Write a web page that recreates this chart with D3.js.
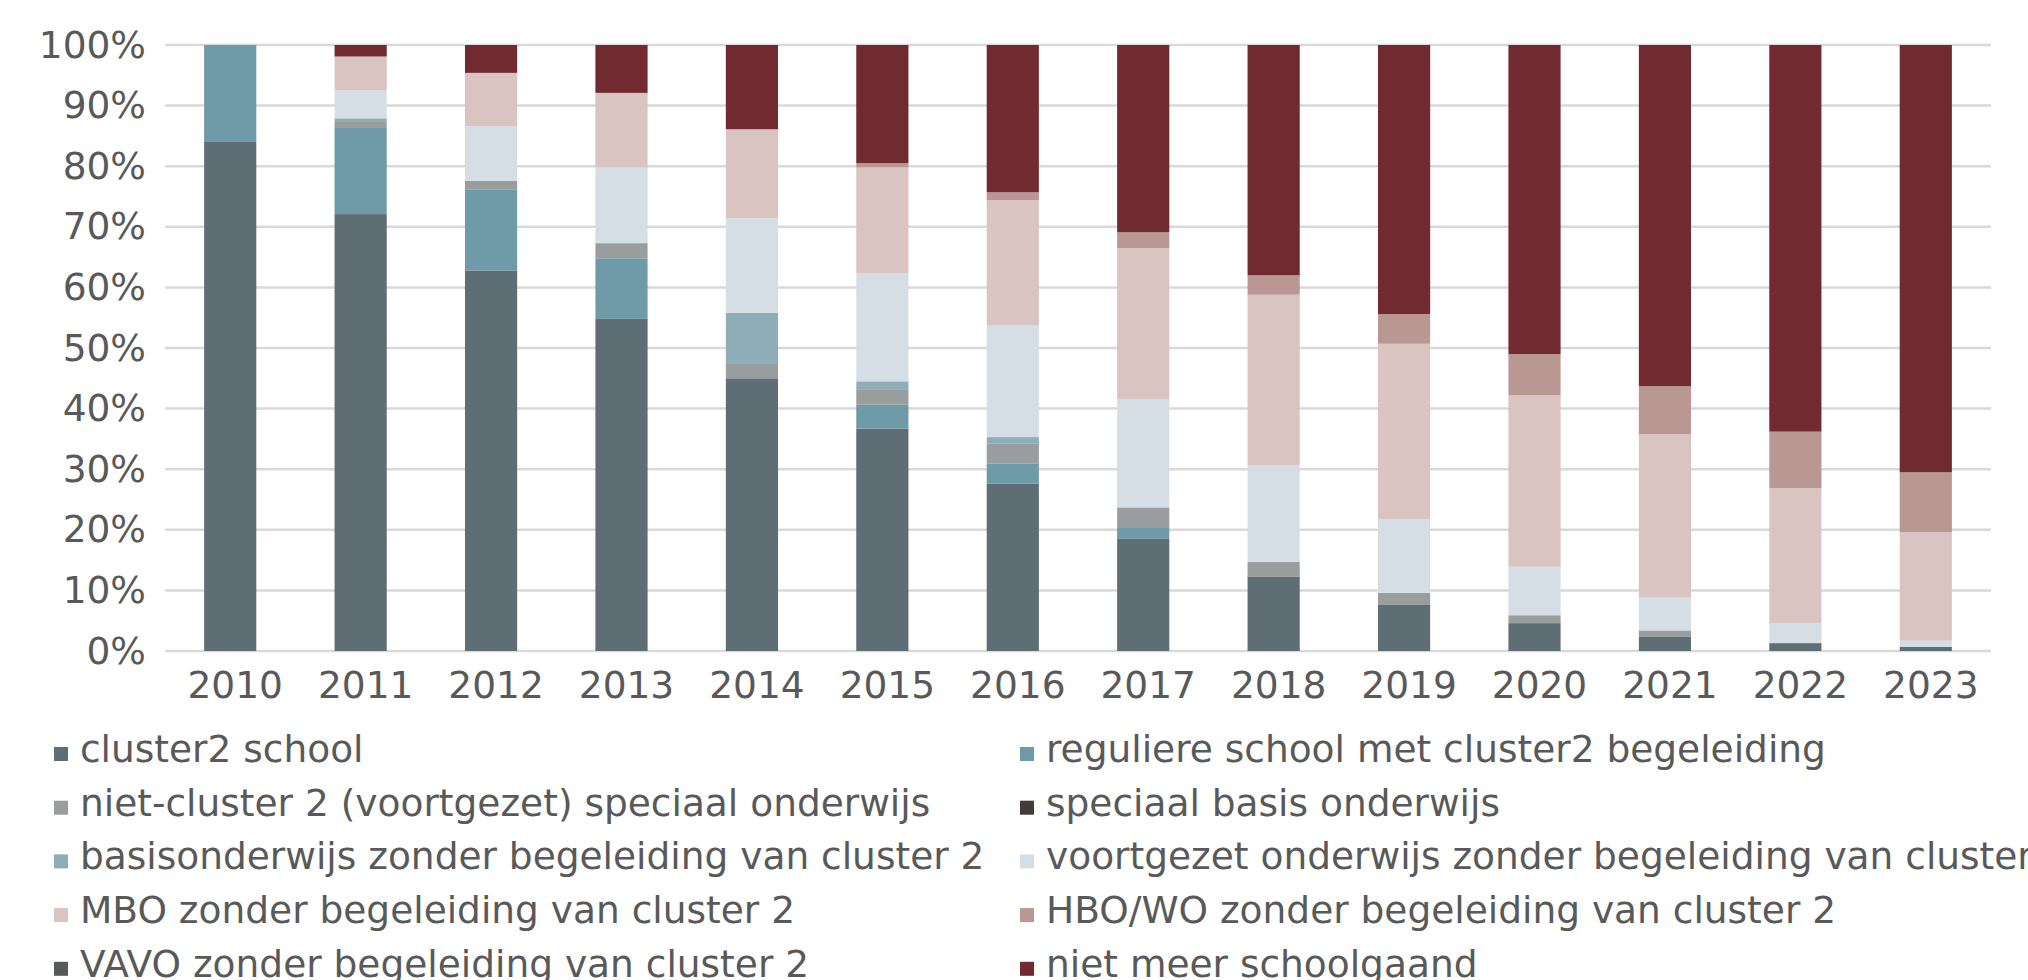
<!DOCTYPE html>
<html>
<head>
<meta charset="utf-8">
<script src="https://cdn.jsdelivr.net/npm/d3@7"></script>
<style>
  html, body { margin: 0; padding: 0; background: #fff; overflow: hidden; }
  svg { display: block; font-family: "DejaVu Sans", Verdana, sans-serif; }
</style>
</head>
<body>
<svg id="chart"></svg>
<script>
// years on the x axis
const years = ["2010", "2011", "2012", "2013", "2014", "2015", "2016",
               "2017", "2018", "2019", "2020", "2021", "2022", "2023"];

// series names, bottom of the stack first (also legend order)
const seriesNames = [
  "cluster2 school",
  "reguliere school met cluster2 begeleiding",
  "niet-cluster 2 (voortgezet) speciaal onderwijs",
  "speciaal basis onderwijs",
  "basisonderwijs zonder begeleiding van cluster 2",
  "voortgezet onderwijs zonder begeleiding van cluster 2",
  "MBO zonder begeleiding van cluster 2",
  "HBO/WO zonder begeleiding van cluster 2",
  "VAVO zonder begeleiding van cluster 2",
  "niet meer schoolgaand"
];

const seriesColors = ["#5f6e75", "#6f9aa8", "#9a9d9e", "#433a3a", "#8fadb7",
                      "#d6dee5", "#d9c4c2", "#b99792", "#575a5b", "#722a31"];

// share per year (percent)
const cluster2School  = [84.0, 72.1, 62.8, 54.8, 45.0, 36.7, 27.6, 18.5, 12.3, 7.6, 4.6, 2.4, 1.3, 0.7];
const reguliereMetC2  = [16.0, 14.2, 13.3, 10.0, 0,    4.0,  3.3,  1.8,  0,    0,   0,   0,   0,   0];
const nietCluster2SO  = [0,    1.0,  1.5,  2.5,  2.5,  2.5,  3.3,  3.4,  2.4,  2.0, 1.3, 1.0, 0,   0];
const speciaalBasis   = [0,    0,    0,    0,    0,    0,    0,    0,    0,    0,   0,   0,   0,   0];
const basisZonder     = [0,    0.6,  0,    0,    8.3,  1.3,  1.1,  0,    0,    0,   0,   0,   0,   0];
const voortgezetZonder= [0,    4.6,  9.0,  12.5, 15.6, 17.8, 18.5, 17.9, 16.0, 12.1, 8.0, 5.4, 3.3, 1.0];
const mboZonder       = [0,    5.6,  8.8,  12.3, 14.7, 17.5, 20.6, 24.9, 28.1, 29.0, 28.3, 27.0, 22.3, 17.9];
const hboWoZonder     = [0,    0,    0,    0,    0,    0.7,  1.3,  2.6,  3.2,  4.9, 6.8, 7.9, 9.3, 9.9];
const vavoZonder      = [0,    0,    0,    0,    0,    0,    0,    0,    0,    0,   0,   0,   0,   0];
const nietMeer        = [0,    1.9,  4.6,  7.9,  13.9, 19.5, 24.3, 30.9, 38.0, 44.4, 51.0, 56.3, 63.8, 70.5];

const seriesValues = [cluster2School, reguliereMetC2, nietCluster2SO, speciaalBasis, basisZonder,
                      voortgezetZonder, mboZonder, hboWoZonder, vavoZonder, nietMeer];

const yTicks = [0, 10, 20, 30, 40, 50, 60, 70, 80, 90, 100];

const W = 2028, H = 980;
const margin = { top: 45, right: 37, bottom: 329, left: 165 };
const innerW = W - margin.left - margin.right;
const innerH = H - margin.top - margin.bottom;
const textColor = "#595959";
const fontSize = "37.5px";

const svg = d3.select("#chart").attr("width", W).attr("height", H);
const g = svg.append("g").attr("transform", `translate(${margin.left},${margin.top})`);

// build table rows for d3.stack
const rows = years.map((yr, i) => {
  const r = { year: yr };
  seriesNames.forEach((name, s) => { r[name] = seriesValues[s][i]; });
  return r;
});
const stacked = d3.stack().keys(seriesNames)(rows);

const x = d3.scaleBand().domain(years).range([0, innerW]).paddingInner(0.6).paddingOuter(0.3);
const y = d3.scaleLinear().domain([0, 100]).range([innerH, 0]);
const color = d3.scaleOrdinal().domain(seriesNames).range(seriesColors);

// gridlines
g.append("g")
  .selectAll("line")
  .data(yTicks)
  .join("line")
  .attr("x1", 0).attr("x2", innerW)
  .attr("y1", d => y(d)).attr("y2", d => y(d))
  .attr("stroke", "#d9d9d9")
  .attr("stroke-width", 2.5);

// y axis labels
const yAxis = g.append("g")
  .call(d3.axisLeft(y).tickValues(yTicks).tickFormat(d => d + "%").tickSize(0).tickPadding(19));
yAxis.select(".domain").remove();
yAxis.selectAll("text")
  .attr("fill", textColor)
  .style("font-size", fontSize)
  .style("font-family", "'DejaVu Sans', Verdana, sans-serif");

// bars
g.append("g")
  .selectAll("g")
  .data(stacked)
  .join("g")
  .attr("fill", d => color(d.key))
  .selectAll("rect")
  .data(d => d)
  .join("rect")
  .attr("x", d => x(d.data.year))
  .attr("y", d => y(d[1]))
  .attr("width", x.bandwidth())
  .attr("height", d => Math.max(0, y(d[0]) - y(d[1])));

// x axis labels
const xAxis = g.append("g")
  .attr("transform", `translate(0,${innerH})`)
  .call(d3.axisBottom(x).tickSize(0).tickPadding(20));
xAxis.select(".domain").remove();
xAxis.selectAll("text")
  .attr("fill", textColor)
  .attr("dx", 5)
  .style("font-size", fontSize)
  .style("font-family", "'DejaVu Sans', Verdana, sans-serif");

// legend, two columns, row-major order
const legend = svg.append("g");
const colX = [54, 1020];
const rowY0 = 762, rowStep = 53.7;
const item = legend.selectAll("g")
  .data(seriesNames)
  .join("g")
  .attr("transform", (d, i) => `translate(${colX[i % 2]},${rowY0 + Math.floor(i / 2) * rowStep})`);
item.append("rect")
  .attr("x", 0).attr("y", -15)
  .attr("width", 14).attr("height", 14)
  .attr("fill", d => color(d));
item.append("text")
  .attr("x", 26).attr("y", 0)
  .attr("fill", textColor)
  .style("font-size", fontSize)
  .text(d => d);
</script>
</body>
</html>
